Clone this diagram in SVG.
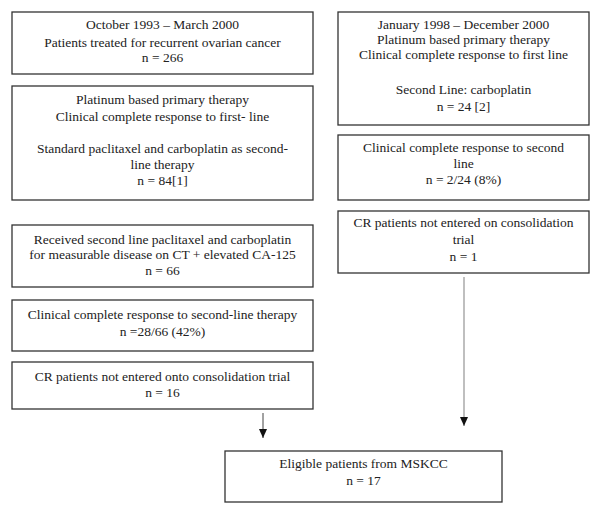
<svg xmlns="http://www.w3.org/2000/svg" width="600" height="513" viewBox="0 0 600 513">
<style>
rect{fill:#fff;stroke:#333;stroke-width:1.3}
text{font-family:"Liberation Serif","Times New Roman",serif;font-size:13.5px;fill:#222;text-anchor:middle}
.c1{stroke:#444;stroke-width:1}
.c2{stroke:#aaa;stroke-width:1.5}
</style>
<defs>
<marker id="ah" markerWidth="9" markerHeight="8" refX="9" refY="4" orient="auto" markerUnits="userSpaceOnUse" viewBox="0 0 9 8">
<path d="M0,0 L9,4 L0,8 Z" fill="#111"/>
</marker>
</defs>
<rect width="600" height="513" style="fill:#fff;stroke:none"/>
<g id="n1"><rect x="12" y="12" width="301" height="62"/>
<text x="162.5" y="29">October 1993 – March 2000</text>
<text x="162.5" y="47">Patients treated for recurrent ovarian cancer</text>
<text x="162.5" y="62">n = 266</text></g>
<g id="n2"><rect x="12" y="86" width="301" height="114"/>
<text x="162.5" y="104">Platinum based primary therapy</text>
<text x="162.5" y="121">Clinical complete response to first- line</text>
<text x="162.5" y="153">Standard paclitaxel and carboplatin as second-</text>
<text x="162.5" y="169">line therapy</text>
<text x="162.5" y="185">n = 84[1]</text></g>
<g id="n3"><rect x="12" y="225" width="301" height="62"/>
<text x="162.5" y="244">Received second line paclitaxel and carboplatin</text>
<text x="162.5" y="259">for measurable disease on CT + elevated CA-125</text>
<text x="162.5" y="275">n = 66</text></g>
<g id="n4"><rect x="12" y="300" width="301" height="51"/>
<text x="162.5" y="319">Clinical complete response to second-line therapy</text>
<text x="162.5" y="336">n =28/66 (42%)</text></g>
<g id="n5"><rect x="12" y="362" width="301" height="47"/>
<text x="162.5" y="381">CR patients not entered onto consolidation trial</text>
<text x="162.5" y="397">n = 16</text></g>
<g id="n6"><rect x="338" y="12" width="251" height="113"/>
<text x="463.5" y="29">January 1998 – December 2000</text>
<text x="463.5" y="44">Platinum based primary therapy</text>
<text x="463.5" y="59">Clinical complete response to first line</text>
<text x="463.5" y="94">Second Line: carboplatin</text>
<text x="463.5" y="111">n = 24 [2]</text></g>
<g id="n7"><rect x="338" y="135" width="251" height="65"/>
<text x="463.5" y="152">Clinical complete response to second</text>
<text x="463.5" y="168">line</text>
<text x="463.5" y="184">n = 2/24 (8%)</text></g>
<g id="n8"><rect x="338" y="211" width="251" height="62"/>
<text x="463.5" y="227">CR patients not entered on consolidation</text>
<text x="463.5" y="244">trial</text>
<text x="463.5" y="261">n = 1</text></g>
<g id="n9"><rect x="225" y="451" width="277" height="51"/>
<text x="363.5" y="468">Eligible patients from MSKCC</text>
<text x="363.5" y="485">n = 17</text></g>
<g id="connectors">
<line class="c1" x1="263" y1="413" x2="263" y2="438" marker-end="url(#ah)"/>
<line class="c2" x1="464" y1="277" x2="464" y2="426" marker-end="url(#ah)"/>
</g>
</svg>
